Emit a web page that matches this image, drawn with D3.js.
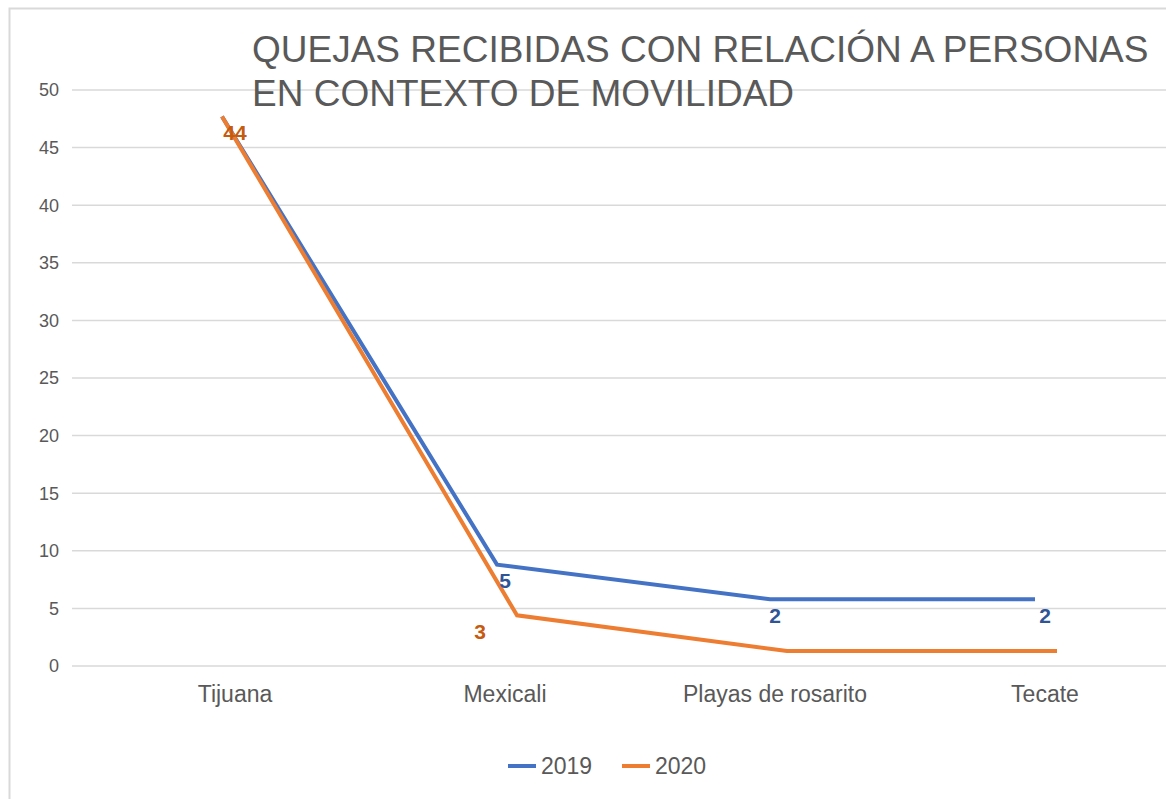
<!DOCTYPE html>
<html>
<head>
<meta charset="utf-8">
<script src="https://cdn.jsdelivr.net/npm/d3@7"></script>
<style>
  body { margin: 0; background: #fff; }
  text { font-family: "Liberation Sans", Arial, sans-serif; }
</style>
</head>
<body>
<svg id="chart"></svg>
<script>
// chart data
const categories = ["Tijuana", "Mexicali", "Playas de rosarito", "Tecate"];
const values2019 = [47.7, 8.8, 5.8, 5.8];
const values2020 = [47.7, 4.4, 1.3, 1.3];
const labels2019 = ["", "5", "2", "2"];
const labels2020 = ["44", "3", "", ""];
const yTicks = [0, 5, 10, 15, 20, 25, 30, 35, 40, 45, 50];
const titleLines = ["QUEJAS RECIBIDAS CON RELACIÓN A PERSONAS", "EN CONTEXTO DE MOVILIDAD"];

const svgWidth = 1166, svgHeight = 799;
const margin = {top: 90, right: 0, bottom: 133, left: 72};

const series = [
    {name: "2019", values: values2019, labels: labels2019, color: "#4472c4", labelColor: "#2f5597", shift: [-13, -8, -5, -10], labelDx: [0, 0, 0, 0]},
    {name: "2020", values: values2020, labels: labels2020, color: "#ed7d31", labelColor: "#c55a11", shift: [-13, 12, 12, 12], labelDx: [0, -25, 0, 0]}
];

const chart = d3.select("#chart")
    .attr("width", svgWidth)
    .attr("height", svgHeight);

// outer frame (runs off the right/bottom edge)
chart.append("rect")
    .attr("x", 9.5).attr("y", 8.5)
    .attr("width", 1300).attr("height", 900)
    .attr("fill", "#fff")
    .attr("stroke", "#d9d9d9")
    .attr("stroke-width", 2);

var yScale = d3.scaleLinear().domain([0, 50]).range([svgHeight - margin.bottom, margin.top]);
var xScale = d3.scalePoint().domain(categories).range([235, 1045]);

// gridlines
chart.append("g").selectAll("line")
    .data(yTicks)
    .enter().append("line")
    .attr("x1", margin.left).attr("x2", svgWidth)
    .attr("y1", d => yScale(d)).attr("y2", d => yScale(d))
    .attr("stroke", "#d9d9d9")
    .attr("stroke-width", 1.5);

// y labels
chart.append("g").selectAll("text")
    .data(yTicks)
    .enter().append("text")
    .attr("x", 59)
    .attr("y", d => yScale(d))
    .attr("dy", "0.35em")
    .attr("text-anchor", "end")
    .attr("fill", "#595959")
    .style("font-size", "18px")
    .text(d => d);

// category labels
chart.append("g").selectAll("text")
    .data(categories)
    .enter().append("text")
    .attr("x", d => xScale(d))
    .attr("y", 702)
    .attr("text-anchor", "middle")
    .attr("fill", "#595959")
    .style("font-size", "23px")
    .text(d => d);

// title
chart.append("g").selectAll("text")
    .data(titleLines)
    .enter().append("text")
    .attr("x", 252)
    .attr("y", (d, i) => 62 + i * 44)
    .attr("fill", "#595959")
    .style("font-size", "37px")
    .text(d => d);

// lines
series.forEach(function(s) {
    var line = d3.line()
        .x((d, i) => xScale(categories[i]) + s.shift[i])
        .y(d => yScale(d));

    chart.append("path")
        .datum(s.values)
        .attr("fill", "none")
        .attr("stroke", s.color)
        .attr("stroke-width", 4)
        .attr("d", line);
});

// data labels
series.forEach(function(s) {
    chart.append("g").selectAll("text")
        .data(s.values)
        .enter().append("text")
        .attr("x", (d, i) => xScale(categories[i]) + s.labelDx[i])
        .attr("y", d => yScale(d) + 16)
        .attr("dy", "0.35em")
        .attr("text-anchor", "middle")
        .attr("fill", s.labelColor)
        .style("font-size", "21px")
        .style("font-weight", "bold")
        .text((d, i) => s.labels[i]);
});

// legend
const legend = chart.append("g").selectAll("g")
    .data(series)
    .enter().append("g")
    .attr("transform", (d, i) => "translate(" + (508 + i * 114) + ",766)");

legend.append("line")
    .attr("x1", 0).attr("x2", 28)
    .attr("stroke", d => d.color)
    .attr("stroke-width", 4);

legend.append("text")
    .attr("x", 33)
    .attr("dy", "0.35em")
    .attr("fill", "#595959")
    .style("font-size", "23px")
    .text(d => d.name);
</script>
</body>
</html>
